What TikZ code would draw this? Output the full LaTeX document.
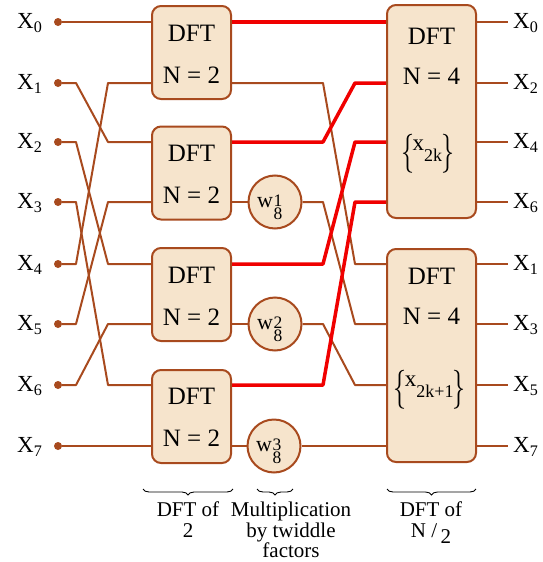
\documentclass[tikz,border=0pt]{standalone}
\usepackage{amsmath}
\usepackage{graphicx}
\usepackage{fontspec}
\setmainfont{Liberation Serif}
\usetikzlibrary{decorations.pathreplacing,calc}
\definecolor{wire}{RGB}{168,74,30}
\definecolor{boxfill}{RGB}{246,228,204}
\definecolor{hot}{RGB}{240,0,0}
\newcommand{\twid}[1]{\fontsize{22}{22}\selectfont w\kern0.5pt\rlap{\raisebox{0.5pt}{\fontsize{17.5}{17}\selectfont #1}}\raisebox{-12.5pt}{\fontsize{17.5}{17}\selectfont 8}}
\newcommand{\bigbrL}{\raisebox{-13pt}{\resizebox*{13pt}{39pt}{$\{$}}}
\newcommand{\bigbrR}{\raisebox{-13pt}{\resizebox*{13pt}{39pt}{$\}$}}}
\newcommand{\setx}[1]{\fontsize{25}{28}\selectfont\bigbrL\kern-1.5pt{\fontsize{23}{26}\selectfont x}\raisebox{-11.5pt}{\fontsize{18}{18}\selectfont #1}\kern-1pt\bigbrR}
\begin{document}
\begin{tikzpicture}[x=1pt,y=-1pt,
  wireline/.style={draw=wire,line width=2pt,line join=round},
  redline/.style={draw=hot,line width=3.5pt,line join=round},
  dftbox/.style={draw=wire,fill=boxfill,line width=2pt,rounded corners=9pt,inner sep=0pt},
  tw/.style={circle,draw=wire,fill=boxfill,line width=2pt,minimum size=53pt,inner sep=0pt},
  twtext/.style={inner sep=0pt,anchor=base west},
  dotnode/.style={circle,fill=wire,minimum size=8pt,inner sep=0pt},
  lab/.style={font=\fontsize{23}{26}\selectfont,inner sep=0pt,anchor=base west},
  boxtext/.style={font=\fontsize{25}{28}\selectfont,inner sep=0pt,anchor=base},
  note/.style={font=\fontsize{21}{20.5}\selectfont,align=center,inner sep=0pt,anchor=north},
  bracedec/.style={decorate,decoration={brace,mirror,amplitude=6pt},draw=black,line width=0.9pt}
]
\useasboundingbox (0,0) rectangle (542,562);
% rows
\coordinate (r0) at (0,22);
\coordinate (r1) at (0,83);
\coordinate (r2) at (0,142);
\coordinate (r3) at (0,202);
\coordinate (r4) at (0,264);
\coordinate (r5) at (0,324);
\coordinate (r6) at (0,385);
\coordinate (r7) at (0,446);
% bend columns
\coordinate (ca) at (76,0);
\coordinate (cb) at (108,0);
\coordinate (cc) at (323,0);
\coordinate (cd) at (355,0);
\coordinate (co) at (508,0);

% boxes
\node[dftbox,minimum width=79pt,minimum height=93pt] (L1) at (191.5,52.5) {};
\node[dftbox,minimum width=79pt,minimum height=93pt] (L2) at (191.5,173) {};
\node[dftbox,minimum width=79pt,minimum height=93pt] (L3) at (191.5,294.5) {};
\node[dftbox,minimum width=79pt,minimum height=93pt] (L4) at (191.5,416.5) {};
\node[dftbox,minimum width=89pt,minimum height=213pt] (R1) at (431.5,111.5) {};
\node[dftbox,minimum width=89pt,minimum height=213pt] (R2) at (431.5,355.5) {};

\node[boxtext] (L1t1) at (L1 |- 0,41) {DFT};
\node[boxtext] (L1t2) at (L1 |- 0,83) {N = 2};
\node[boxtext] (L2t1) at (L2 |- 0,161) {DFT};
\node[boxtext] (L2t2) at (L2 |- 0,203) {N = 2};
\node[boxtext] (L3t1) at (L3 |- 0,283) {DFT};
\node[boxtext] (L3t2) at (L3 |- 0,325) {N = 2};
\node[boxtext] (L4t1) at (L4 |- 0,404) {DFT};
\node[boxtext] (L4t2) at (L4 |- 0,446) {N = 2};

\node[boxtext] (R1t1) at (R1 |- 0,44) {DFT};
\node[boxtext] (R1t2) at (R1 |- 0,84) {N = 4};
\node[boxtext] (R1t3) at ($(R1 |- 0,150)+(-4,0)$) {\setx{2k}};
\node[boxtext] (R2t1) at (R2 |- 0,284) {DFT};
\node[boxtext] (R2t2) at (R2 |- 0,324) {N = 4};
\node[boxtext] (R2t3) at ($(R2 |- 0,386)+(-2,0)$) {\setx{2k+1}};

% twiddle circles
\node[tw] (W1) at (275,202) {};
\node[tw] (W2) at (275,324) {};
\node[tw] (W3) at (274,446) {};
\node[twtext] (W1t) at ($(W1.center)+(-18,5)$) {\twid{1}};
\node[twtext] (W2t) at ($(W2.center)+(-18,5)$) {\twid{2}};
\node[twtext] (W3t) at ($(W3.center)+(-18,5)$) {\twid{3}};

% inputs
\foreach \i in {0,...,7}{
  \node[dotnode] (in\i) at (r\i -| 58,0) {};
  \node[lab] (inl\i) at ($(r\i)+(17,6.5)$) {X$_{\text{\i}}$};
}

% input wires
\draw[wireline] (in0) -- (L1.west |- r0);
\draw[wireline] (in1) -- (ca |- r1) -- (cb |- r2) -- (L2.west |- r2);
\draw[wireline] (in2) -- (ca |- r2) -- (cb |- r4) -- (L3.west |- r4);
\draw[wireline] (in3) -- (ca |- r3) -- (cb |- r6) -- (L4.west |- r6);
\draw[wireline] (in4) -- (ca |- r4) -- (cb |- r1) -- (L1.west |- r1);
\draw[wireline] (in5) -- (ca |- r5) -- (cb |- r3) -- (L2.west |- r3);
\draw[wireline] (in6) -- (ca |- r6) -- (cb |- r5) -- (L3.west |- r5);
\draw[wireline] (in7) -- (L4.west |- r7);

% middle brown wires
\draw[wireline] (L1.east |- r1) -- (cc |- r1) -- (cd |- r4) -- (R2.west |- r4);
\draw[wireline] (L2.east |- r3) -- (W1.west);
\draw[wireline] (W1.east) -- (cc |- r3) -- (cd |- r5) -- (R2.west |- r5);
\draw[wireline] (L3.east |- r5) -- (W2.west);
\draw[wireline] (W2.east) -- (cc |- r5) -- (cd |- r6) -- (R2.west |- r6);
\draw[wireline] (L4.east |- r7) -- (W3.west);
\draw[wireline] (W3.east) -- (R2.west |- r7);

% middle red wires
\draw[redline] (L1.east |- r0) -- (R1.west |- r0);
\draw[redline] (L2.east |- r2) -- (cc |- r2) -- (cd |- r1) -- (R1.west |- r1);
\draw[redline] (L3.east |- r4) -- (cc |- r4) -- (cd |- r2) -- (R1.west |- r2);
\draw[redline] (L4.east |- r6) -- (cc |- r6) -- (cd |- r3) -- (R1.west |- r3);

% outputs
\foreach \i/\k in {0/0,1/2,2/4,3/6}{
  \draw[wireline] (R1.east |- r\i) -- (co |- r\i);
  \node[lab] (out\k) at ($(r\i)+(513,6.5)$) {X$_{\text{\k}}$};
}
\foreach \i/\k in {4/1,5/3,6/5,7/7}{
  \draw[wireline] (R2.east |- r\i) -- (co |- r\i);
  \node[lab] (out\k) at ($(r\i)+(513,6.5)$) {X$_{\text{\k}}$};
}

% braces and notes
\draw[bracedec] (143,489) -- (233,489);
\draw[bracedec] (257,489) -- (293,489);
\draw[bracedec] (387,489) -- (476,489);
\node[note] (n1) at (188,502) {DFT of\\2};
\node[note] (n2) at (291,502) {Multiplication\\by twiddle\\factors};
\node[note] (n3) at (431,502) {DFT of\\N /\,\raisebox{-6pt}{2}};
\end{tikzpicture}
\end{document}
